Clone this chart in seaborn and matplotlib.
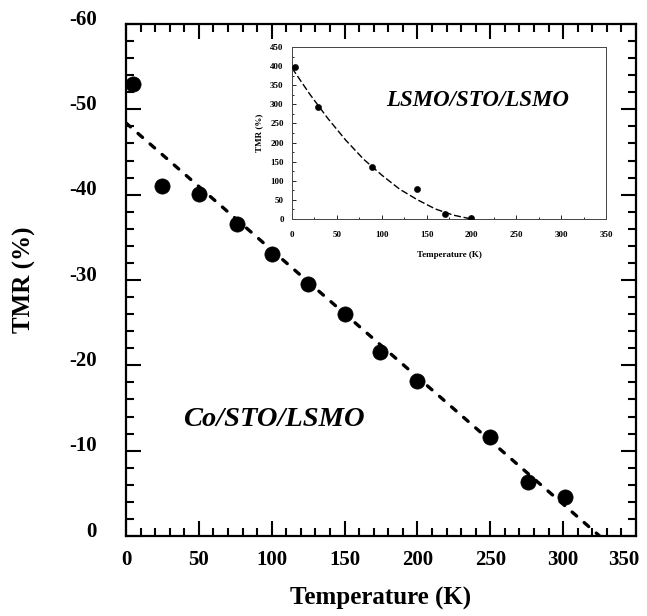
import numpy as np
import pandas as pd
import matplotlib
matplotlib.use("Agg")
import matplotlib.pyplot as plt
from matplotlib.ticker import MultipleLocator
from matplotlib.transforms import ScaledTranslation
import seaborn as sns

# main panel: Co/STO/LSMO
temp_main = [5, 25, 50, 76, 100, 125, 150, 174, 200, 250, 276, 301]
tmr_main = [-53.0, -41.0, -40.1, -36.6, -33.1, -29.5, -26.0, -21.6, -18.2, -11.6, -6.3, -4.6]
fit_main_x = [0, 325]
fit_main_y = [-48.4, 0]
main_xticks = [0, 50, 100, 150, 200, 250, 300, 350]
main_yticks = [0, -10, -20, -30, -40, -50, -60]

# inset: LSMO/STO/LSMO
temp_inset = [3, 29, 89, 139, 170, 200]
tmr_inset = [398, 292, 135, 78, 14, 2]
fit_inset_x = [0, 20, 40, 60, 80, 100, 120, 140, 160, 180, 200]
fit_inset_y = [395, 326, 263, 206, 156, 115, 78, 50, 26, 10, 0]

sns.set_style("ticks")
plt.rcParams["font.family"] = ["Liberation Serif", "DejaVu Serif"]
plt.rcParams["font.weight"] = "bold"
plt.rcParams["axes.unicode_minus"] = False
plt.rcParams["text.color"] = "black"
plt.rcParams["axes.labelcolor"] = "black"
plt.rcParams["xtick.color"] = "black"
plt.rcParams["ytick.color"] = "black"

fig = plt.figure(figsize=(6.47, 6.16), dpi=100)
ax = fig.add_axes([0.1947, 0.1299, 0.7883, 0.8312])

sns.lineplot(x=fit_main_x, y=fit_main_y, ax=ax, color="black", lw=2.4,
             linestyle=(0, (1.8, 3.0)), dash_capstyle="round")
sns.scatterplot(x=temp_main, y=tmr_main, ax=ax, color="black", s=120,
                edgecolor="black", linewidth=0.5, zorder=3, clip_on=False)

ax.set_xlim(0, 350)
ax.set_ylim(0, -60)
ax.set_xticks(main_xticks, [str(t) for t in main_xticks])
ax.set_yticks(main_yticks, [str(t) for t in main_yticks])
ax.xaxis.set_minor_locator(MultipleLocator(10))
ax.yaxis.set_minor_locator(MultipleLocator(2))
ax.tick_params(which="both", direction="in", top=True, right=True, width=1.5)
ax.tick_params(which="major", length=11)
ax.tick_params(which="minor", length=5.5)
ax.tick_params(axis="y", which="major", pad=21, labelsize=15)
ax.tick_params(axis="x", which="major", pad=10, labelsize=15)
up = ScaledTranslation(0, 5 / 72, fig.dpi_scale_trans)
for lab in ax.get_yticklabels():
    lab.set_fontweight("bold")
    lab.set_transform(lab.get_transform() + up)
left = ScaledTranslation(-9 / 72, 0, fig.dpi_scale_trans)
for lab in ax.get_xticklabels():
    lab.set_fontweight("bold")
    if lab.get_text() == "350":
        lab.set_transform(lab.get_transform() + left)
for sp in ax.spines.values():
    sp.set_linewidth(1.6)
    sp.set_color("black")
ax.set_xlabel("Temperature (K)", fontsize=18, fontweight="bold", labelpad=12)
ax.set_ylabel("TMR (%)", fontsize=18, fontweight="bold", labelpad=24)
ax.text(39, -13.6, "Co/STO/LSMO", fontsize=20.5, fontweight="bold",
        style="italic", va="center")

# inset
ins = fig.add_axes([0.4513, 0.6445, 0.4853, 0.2792])
sns.lineplot(x=fit_inset_x, y=fit_inset_y, ax=ins, color="black", lw=1.0,
             linestyle=(0, (5, 2)))
sns.scatterplot(x=temp_inset, y=tmr_inset, ax=ins, color="black", s=20,
                edgecolor="black", zorder=3)
ins.set_xlim(0, 350)
ins.set_ylim(0, 450)
ins.xaxis.set_major_locator(MultipleLocator(50))
ins.xaxis.set_minor_locator(MultipleLocator(25))
ins.yaxis.set_major_locator(MultipleLocator(50))
ins.yaxis.set_minor_locator(MultipleLocator(25))
ins.tick_params(which="both", direction="in", width=0.6, labelsize=6.5)
ins.tick_params(axis="x", which="major", pad=9)
ins.tick_params(axis="y", which="major", pad=6)
ins.tick_params(which="major", length=3)
ins.tick_params(which="minor", length=1.5)
for lab in ins.get_xticklabels() + ins.get_yticklabels():
    lab.set_fontweight("bold")
for sp in ins.spines.values():
    sp.set_linewidth(0.7)
    sp.set_color("#444444")
ins.set_xlabel("Temperature (K)", fontsize=6.5, fontweight="bold", labelpad=8)
ins.set_ylabel("TMR (%)", fontsize=6.5, fontweight="bold", labelpad=5)
ins.text(105, 311, "LSMO/STO/LSMO", fontsize=16.5, fontweight="bold",
         style="italic", va="center")

fig.savefig("out.png", dpi=100, facecolor="white")
